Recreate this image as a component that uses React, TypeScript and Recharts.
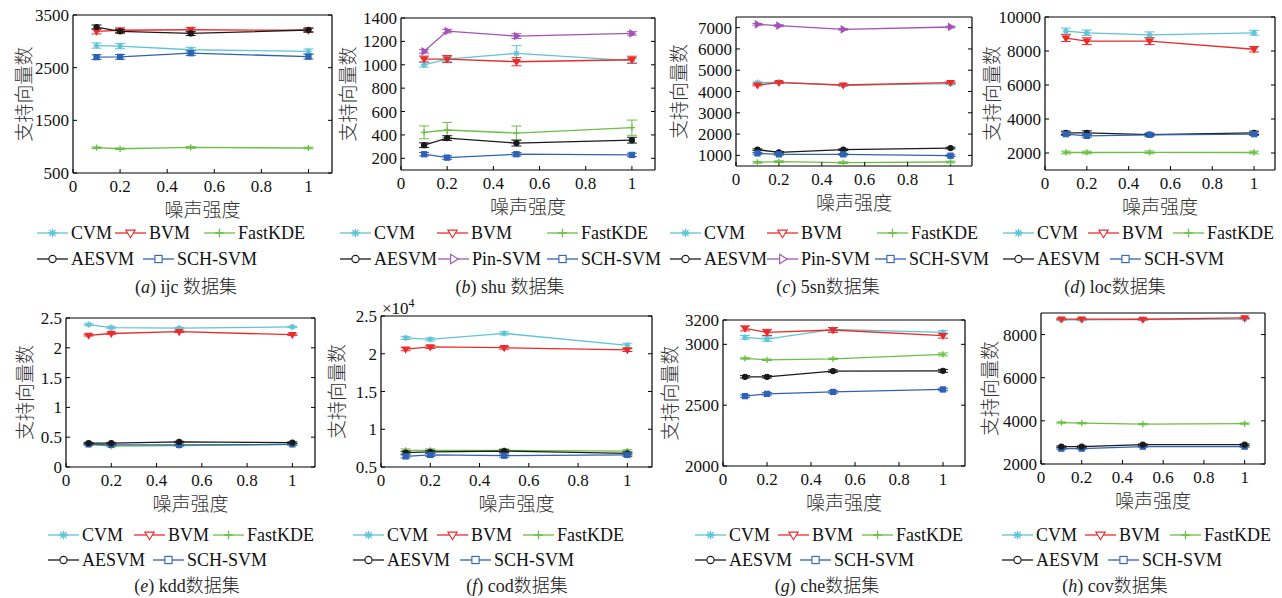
import React from "react";
import { LineChart, Line, XAxis, YAxis, ReferenceLine, ErrorBar, Legend } from "recharts";

const SERIF = '"Liberation Serif", "Noto Sans CJK SC", serif';
const CJK = '"Noto Sans CJK SC", "Liberation Serif", sans-serif';

const noise = [0.1, 0.2, 0.5, 1];
const xTicks = [0, 0.2, 0.4, 0.6, 0.8, 1];

// (a) ijc
const ijcCVM = [2920, 2910, 2840, 2810];
const ijcCVMErr = [50, 50, 45, 45];
const ijcBVM = [3190, 3210, 3220, 3210];
const ijcBVMErr = [50, 45, 45, 40];
const ijcFastKDE = [980, 960, 985, 975];
const ijcFastKDEErr = [15, 15, 15, 15];
const ijcAESVM = [3270, 3190, 3150, 3215];
const ijcAESVMErr = [40, 35, 40, 35];
const ijcSCH = [2700, 2705, 2775, 2710];
const ijcSCHErr = [45, 45, 45, 45];

// (b) shu
const shuCVM = [1000, 1049, 1098, 1035];
const shuCVMErr = [20, 20, 65, 20];
const shuBVM = [1049, 1049, 1026, 1043];
const shuBVMErr = [25, 30, 35, 30];
const shuFastKDE = [422, 442, 416, 462];
const shuFastKDEErr = [55, 65, 60, 65];
const shuAESVM = [312, 373, 330, 355];
const shuAESVMErr = [20, 20, 25, 25];
const shuPin = [1115, 1288, 1245, 1268];
const shuPinErr = [15, 15, 20, 15];
const shuSCH = [235, 206, 235, 229];
const shuSCHErr = [15, 15, 15, 15];

// (c) 5sn
const snCVM = [4414, 4445, 4290, 4368];
const snBVM = [4305, 4414, 4305, 4414];
const snFastKDE = [673, 704, 657, 688];
const snAESVM = [1265, 1140, 1265, 1343];
const snPin = [7156, 7093, 6922, 7031];
const snSCH = [1093, 1047, 1047, 984];
const snErr = [40, 40, 40, 40];

// (d) loc
const locCVM = [9170, 9072, 8953, 9072];
const locCVMErr = [180, 160, 170, 140];
const locBVM = [8756, 8578, 8578, 8104];
const locBVMErr = [200, 200, 200, 160];
const locFastKDE = [2030, 2030, 2040, 2030];
const locFastKDEErr = [80, 80, 80, 80];
const locAESVM = [3185, 3185, 3086, 3185];
const locAESVMErr = [100, 120, 80, 100];
const locSCH = [3106, 3007, 3067, 3106];
const locSCHErr = [80, 80, 80, 80];

// (e) kdd
const kddCVM = [2.39, 2.34, 2.33, 2.35];
const kddBVM = [2.21, 2.24, 2.27, 2.22];
const kddFastKDE = [0.38, 0.35, 0.36, 0.38];
const kddAESVM = [0.4, 0.4, 0.42, 0.41];
const kddSCH = [0.38, 0.37, 0.37, 0.38];
const kddErr = [0.012, 0.012, 0.012, 0.012];

// (f) cod (x10^4)
const codCVM = [2.21, 2.19, 2.27, 2.11];
const codCVMErr = [0.02, 0.02, 0.02, 0.03];
const codBVM = [2.06, 2.09, 2.08, 2.05];
const codFastKDE = [0.72, 0.72, 0.72, 0.71];
const codAESVM = [0.69, 0.7, 0.71, 0.68];
const codSCH = [0.64, 0.66, 0.65, 0.66];
const codErr = [0.02, 0.02, 0.02, 0.02];

// (g) che
const cheCVM = [3057, 3043, 3123, 3098];
const cheCVMErr = [15, 18, 15, 15];
const cheBVM = [3131, 3098, 3118, 3071];
const cheBVMErr = [20, 25, 20, 20];
const cheFastKDE = [2884, 2873, 2881, 2917];
const cheFastKDEErr = [6, 6, 6, 12];
const cheAESVM = [2733, 2733, 2780, 2782];
const cheAESVMErr = [10, 10, 10, 12];
const cheSCH = [2574, 2593, 2609, 2629];
const cheSCHErr = [10, 10, 10, 10];

// (h) cov
const covCVM = [8680, 8680, 8690, 8720];
const covBVM = [8720, 8720, 8710, 8770];
const covFastKDE = [3922, 3891, 3845, 3876];
const covAESVM = [2806, 2806, 2899, 2899];
const covSCH = [2713, 2713, 2806, 2806];
const covErr = [30, 30, 30, 30];

const style: Record<string, { color: string; shape: string }> = {
  CVM: { color: "#5ec4d6", shape: "asterisk" },
  BVM: { color: "#ec2b2b", shape: "down" },
  FastKDE: { color: "#6cbf45", shape: "plus" },
  AESVM: { color: "#1a1a1a", shape: "circle" },
  "Pin-SVM": { color: "#a452b6", shape: "right" },
  "SCH-SVM": { color: "#2f62b5", shape: "square" },
};

type SeriesDef = [string, number[], number[]];
type LegendItem = [string, number];

interface PanelDef {
  tag: string;
  name: string;
  x0: number;
  y0: number;
  x1: number;
  y1: number;
  yDomain: [number, number];
  yTicks: number[];
  yLabelX: number;
  series: SeriesDef[];
  legendRows: LegendItem[][];
  titleX: number;
  lower: boolean;
  mult?: boolean;
}

const panels: PanelDef[] = [
  {
    tag: "a", name: " ijc 数据集", x0: 73, y0: 15, x1: 332, y1: 173,
    yDomain: [500, 3500], yTicks: [500, 1500, 2500, 3500], yLabelX: 22,
    series: [
      ["CVM", ijcCVM, ijcCVMErr], ["BVM", ijcBVM, ijcBVMErr], ["FastKDE", ijcFastKDE, ijcFastKDEErr],
      ["SCH-SVM", ijcSCH, ijcSCHErr], ["AESVM", ijcAESVM, ijcAESVMErr],
    ],
    legendRows: [[["CVM", 37], ["BVM", 115], ["FastKDE", 204]], [["AESVM", 37], ["SCH-SVM", 143]]],
    titleX: 186, lower: false,
  },
  {
    tag: "b", name: " shu 数据集", x0: 401, y0: 18, x1: 655, y1: 170,
    yDomain: [100, 1400], yTicks: [200, 400, 600, 800, 1000, 1200, 1400], yLabelX: 346,
    series: [
      ["CVM", shuCVM, shuCVMErr], ["BVM", shuBVM, shuBVMErr], ["FastKDE", shuFastKDE, shuFastKDEErr],
      ["AESVM", shuAESVM, shuAESVMErr], ["Pin-SVM", shuPin, shuPinErr], ["SCH-SVM", shuSCH, shuSCHErr],
    ],
    legendRows: [[["CVM", 340], ["BVM", 437], ["FastKDE", 547]], [["AESVM", 340], ["Pin-SVM", 438], ["SCH-SVM", 547]]],
    titleX: 510, lower: false,
  },
  {
    tag: "c", name: " 5sn数据集", x0: 736, y0: 17, x1: 972, y1: 166,
    yDomain: [500, 7500], yTicks: [1000, 2000, 3000, 4000, 5000, 6000, 7000], yLabelX: 677,
    series: [
      ["CVM", snCVM, snErr], ["BVM", snBVM, snErr], ["FastKDE", snFastKDE, snErr],
      ["AESVM", snAESVM, snErr], ["Pin-SVM", snPin, snErr], ["SCH-SVM", snSCH, snErr],
    ],
    legendRows: [[["CVM", 670], ["BVM", 767], ["FastKDE", 877]], [["AESVM", 670], ["Pin-SVM", 767], ["SCH-SVM", 875]]],
    titleX: 828, lower: false,
  },
  {
    tag: "d", name: " loc数据集", x0: 1045, y0: 17, x1: 1275, y1: 170,
    yDomain: [1000, 10000], yTicks: [2000, 4000, 6000, 8000, 10000], yLabelX: 990,
    series: [
      ["CVM", locCVM, locCVMErr], ["BVM", locBVM, locBVMErr], ["FastKDE", locFastKDE, locFastKDEErr],
      ["AESVM", locAESVM, locAESVMErr], ["SCH-SVM", locSCH, locSCHErr],
    ],
    legendRows: [[["CVM", 1003], ["BVM", 1088], ["FastKDE", 1173]], [["AESVM", 1003], ["SCH-SVM", 1110]]],
    titleX: 1115, lower: false,
  },
  {
    tag: "e", name: " kdd数据集", x0: 66, y0: 318, x1: 315, y1: 467,
    yDomain: [0, 2.5], yTicks: [0, 0.5, 1, 1.5, 2, 2.5], yLabelX: 23,
    series: [
      ["CVM", kddCVM, kddErr], ["BVM", kddBVM, kddErr], ["FastKDE", kddFastKDE, kddErr],
      ["SCH-SVM", kddSCH, kddErr], ["AESVM", kddAESVM, kddErr],
    ],
    legendRows: [[["CVM", 48], ["BVM", 134], ["FastKDE", 213]], [["AESVM", 48], ["SCH-SVM", 153]]],
    titleX: 187, lower: true,
  },
  {
    tag: "f", name: " cod数据集", x0: 381, y0: 316, x1: 652, y1: 467,
    yDomain: [0.5, 2.5], yTicks: [0.5, 1, 1.5, 2, 2.5], yLabelX: 335,
    series: [
      ["CVM", codCVM, codCVMErr], ["BVM", codBVM, codErr], ["FastKDE", codFastKDE, codErr],
      ["AESVM", codAESVM, codErr], ["SCH-SVM", codSCH, codErr],
    ],
    legendRows: [[["CVM", 353], ["BVM", 437], ["FastKDE", 523]], [["AESVM", 353], ["SCH-SVM", 460]]],
    titleX: 517, lower: true, mult: true,
  },
  {
    tag: "g", name: " che数据集", x0: 723, y0: 320, x1: 965, y1: 466,
    yDomain: [2000, 3200], yTicks: [2000, 2500, 3000, 3200], yLabelX: 668,
    series: [
      ["CVM", cheCVM, cheCVMErr], ["BVM", cheBVM, cheBVMErr], ["FastKDE", cheFastKDE, cheFastKDEErr],
      ["AESVM", cheAESVM, cheAESVMErr], ["SCH-SVM", cheSCH, cheSCHErr],
    ],
    legendRows: [[["CVM", 695], ["BVM", 778], ["FastKDE", 862]], [["AESVM", 695], ["SCH-SVM", 800]]],
    titleX: 827, lower: true,
  },
  {
    tag: "h", name: " cov数据集", x0: 1041, y0: 313, x1: 1265, y1: 464,
    yDomain: [2000, 9000], yTicks: [2000, 4000, 6000, 8000], yLabelX: 988,
    series: [
      ["CVM", covCVM, covErr], ["BVM", covBVM, covErr], ["FastKDE", covFastKDE, covErr],
      ["SCH-SVM", covSCH, covErr], ["AESVM", covAESVM, covErr],
    ],
    legendRows: [[["CVM", 1002], ["BVM", 1085], ["FastKDE", 1170]], [["AESVM", 1002], ["SCH-SVM", 1108]]],
    titleX: 1115, lower: true,
  },
];

function Marker({ cx, cy, shape, color, s = 2.6, open = false }: any) {
  const fill = open ? "#fff" : color;
  const sw = 1.1;
  switch (shape) {
    case "circle":
      return <circle cx={cx} cy={cy} r={s} fill={fill} stroke={color} strokeWidth={sw} />;
    case "square":
      return <rect x={cx - s} y={cy - s} width={2 * s} height={2 * s} fill={fill} stroke={color} strokeWidth={sw} />;
    case "down":
      return (
        <polygon
          points={`${cx - s * 1.3},${cy - s * 0.8} ${cx + s * 1.3},${cy - s * 0.8} ${cx},${cy + s * 1.3}`}
          fill={fill} stroke={color} strokeWidth={sw}
        />
      );
    case "right":
      return (
        <polygon
          points={`${cx - s * 0.8},${cy - s * 1.3} ${cx - s * 0.8},${cy + s * 1.3} ${cx + s * 1.3},${cy}`}
          fill={fill} stroke={color} strokeWidth={sw}
        />
      );
    case "plus":
      return <path d={`M${cx - s * 1.2},${cy}H${cx + s * 1.2}M${cx},${cy - s * 1.2}V${cy + s * 1.2}`} stroke={color} strokeWidth={1.3} />;
    default: {
      const d = s * 0.85;
      return (
        <path
          d={`M${cx - s * 1.2},${cy}H${cx + s * 1.2}M${cx},${cy - s * 1.2}V${cy + s * 1.2}M${cx - d},${cy - d}L${cx + d},${cy + d}M${cx - d},${cy + d}L${cx + d},${cy - d}`}
          stroke={color} strokeWidth={1.3}
        />
      );
    }
  }
}

function YTitle({ px, py }: any) {
  return (
    <text x={px} y={py} transform={`rotate(-90 ${px} ${py})`} textAnchor="middle" dominantBaseline="central"
      fontSize={19} fontFamily={CJK} fontWeight={300} fill="#333">
      支持向量数
    </text>
  );
}

function XTitle({ px, py, mult, mx, my }: any) {
  return (
    <g>
      <text x={px} y={py} textAnchor="middle" dominantBaseline="central" fontSize={19} fontFamily={CJK} fontWeight={300} fill="#333">
        噪声强度
      </text>
      {mult && (
        <text x={mx} y={my} fontSize={17} fontFamily={SERIF} fill="#111">
          ×10<tspan dy={-7} fontSize={12}>4</tspan>
        </text>
      )}
    </g>
  );
}

// inward tick marks on the right-hand frame
function RightTick({ x, y }: any) {
  return <line x1={x} y1={y} x2={x + 4} y2={y} stroke="#000" strokeWidth={1} />;
}

function PanelLegend({ p, left, top, w, h }: any) {
  const rowTops = p.lower ? [522, 547] : [220, 246];
  const titleTop = p.lower ? 573 : 274;
  return (
    <div style={{ position: "relative", width: w, height: h }}>
      {p.legendRows.map((row: LegendItem[], ri: number) =>
        row.map(([name, x]) => {
          const st = style[name];
          return (
            <div key={name} style={{ position: "absolute", left: x - left, top: rowTops[ri] - top, height: 26, display: "flex", alignItems: "center", whiteSpace: "nowrap" }}>
              <svg width={32} height={14} style={{ display: "block" }}>
                <line x1={0} y1={7} x2={31} y2={7} stroke={st.color} strokeWidth={1.3} />
                <Marker cx={15.5} cy={7} shape={st.shape} color={st.color} s={3.6} open />
              </svg>
              <span style={{ marginLeft: 2, fontSize: 18, fontFamily: SERIF, color: "#111", lineHeight: "26px" }}>{name}</span>
            </div>
          );
        })
      )}
      <div style={{ position: "absolute", left: p.titleX - left - 110, width: 220, top: titleTop - top, textAlign: "center", lineHeight: "26px", fontSize: 18, fontFamily: SERIF, color: "#222", fontWeight: 300, whiteSpace: "nowrap" }}>
        (<i>{p.tag}</i>){p.name}
      </div>
    </div>
  );
}

function Panel({ p }: { p: PanelDef }) {
  const padTop = 25;
  const left = p.x0 - 80;
  const top = p.y0 - padTop;
  const w = p.x1 - p.x0 + 92;
  const h = (p.lower ? 598 : 300) - top;
  const plotH = p.y1 - p.y0;
  const data = noise.map((x, i) => {
    const row: Record<string, number> = { x };
    p.series.forEach(([, vals, errs], k) => {
      row["s" + k] = vals[i];
      row["e" + k] = errs[i];
    });
    return row;
  });
  const tickStyle = { fontSize: 17, fill: "#111", fontFamily: SERIF };
  return (
    <div style={{ position: "absolute", left, top }}>
      <LineChart width={w} height={h} data={data} margin={{ top: padTop, left: 20, right: 11, bottom: h - padTop - plotH - 30 }}>
        <XAxis
          dataKey="x" type="number" domain={[0, 1.1]} ticks={xTicks} allowDataOverflow
          height={30} tickSize={-4} tickMargin={11} tick={tickStyle}
          axisLine={{ stroke: "#000", strokeWidth: 1.2 }} tickLine={{ stroke: "#000" }}
          label={<XTitle px={(p.x0 + p.x1) / 2 - left} py={p.y1 + 35 - top} mult={p.mult} mx={p.x0 + 1 - left} my={p.y0 - 2 - top} />}
        />
        <YAxis
          yAxisId="l" type="number" domain={p.yDomain} ticks={p.yTicks} allowDataOverflow interval={0}
          width={60} tickSize={-4} tickMargin={8} tick={tickStyle}
          axisLine={{ stroke: "#000", strokeWidth: 1.2 }} tickLine={{ stroke: "#000" }}
          label={<YTitle px={p.yLabelX - left} py={(p.y0 + p.y1) / 2 - top} />}
        />
        <YAxis
          yAxisId="r" orientation="right" type="number" domain={p.yDomain} ticks={p.yTicks} allowDataOverflow interval={0}
          width={1} tickSize={-4} tickMargin={0} tick={<RightTick />} tickLine={false}
          axisLine={{ stroke: "#000", strokeWidth: 1.2 }}
        />
        <ReferenceLine yAxisId="l" y={p.yDomain[1]} stroke="#000" strokeWidth={1.2} />
        {p.series.map(([name], k) => {
          const st = style[name];
          return (
            <Line
              key={name} yAxisId="l" type="linear" dataKey={"s" + k} name={name}
              stroke={st.color} strokeWidth={1.3} isAnimationActive={false}
              dot={(d: any) => <Marker key={`${name}-${d.index}`} cx={d.cx} cy={d.cy} shape={st.shape} color={st.color} />}
              activeDot={false}
            >
              <ErrorBar dataKey={"e" + k} width={5} strokeWidth={1} stroke={st.color} direction="y" isAnimationActive={false} />
            </Line>
          );
        })}
        <Legend
          layout="horizontal" verticalAlign="middle" align="center"
          wrapperStyle={{ left: 0, top: 0, width: w, height: h, pointerEvents: "none" }}
          content={() => <PanelLegend p={p} left={left} top={top} w={w} h={h} />}
        />
      </LineChart>
    </div>
  );
}

export default function App() {
  return (
    <div style={{ position: "absolute", left: 0, top: 0, width: 1282, height: 598, background: "#fff", overflow: "hidden" }}>
      {panels.map((p) => (
        <Panel key={p.tag} p={p} />
      ))}
    </div>
  );
}
